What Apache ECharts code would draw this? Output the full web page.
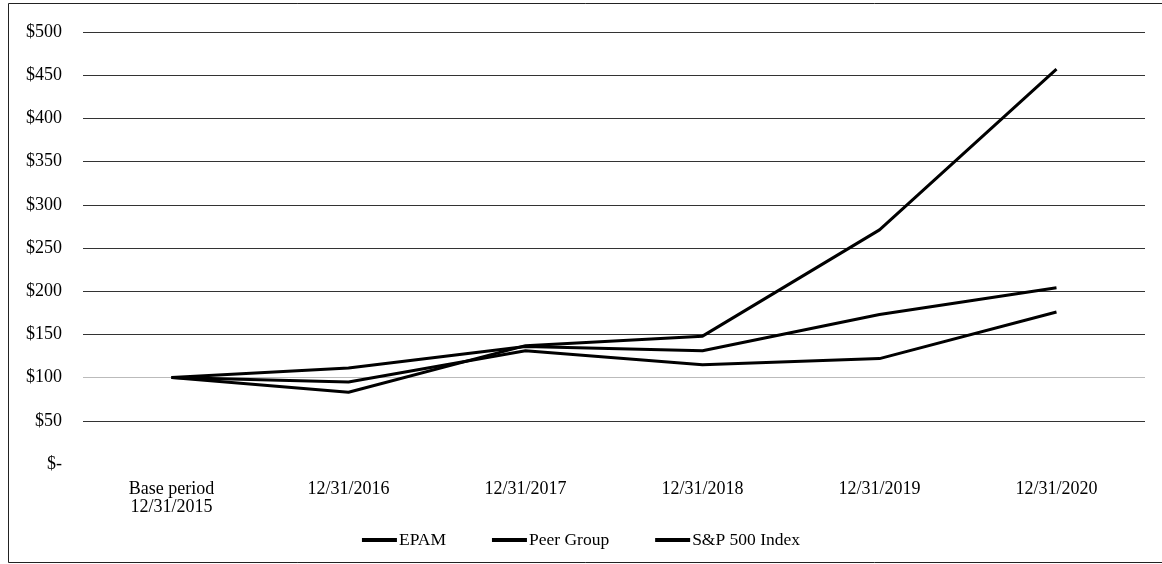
<!DOCTYPE html>
<html>
<head>
<meta charset="utf-8">
<script src="https://cdn.jsdelivr.net/npm/echarts@6/dist/echarts.min.js"></script>
<style>html,body{margin:0;padding:0;background:#fff}#c{width:1162px;height:564px}</style>
</head>
<body>
<div id="c"></div>
<script>
var categories = ['Base period\n12/31/2015', '12/31/2016', '12/31/2017', '12/31/2018', '12/31/2019', '12/31/2020'];
var epam = [100, 83, 137, 148, 271, 457];
var peerGroup = [100, 95, 131, 115, 122, 176];
var sp500 = [100, 111, 136, 131, 173, 204];
var seriesNames = ['EPAM', 'Peer Group', 'S&P 500 Index'];

var font = '"Liberation Serif", "Times New Roman", serif';
var chart = echarts.init(document.getElementById('c'), null, {renderer: 'canvas'});
function mk(name, data) {
  return {
    name: name, type: 'line', data: data, symbol: 'none', smooth: false,
    lineStyle: {color: '#000', width: 3}, itemStyle: {color: '#000'}
  };
}
chart.setOption({
  animation: false,
  backgroundColor: '#fff',
  graphic: [{
    type: 'rect', shape: {x: 8.5, y: 3.5, width: 1160, height: 559},
    style: {fill: 'none', stroke: '#222', lineWidth: 1}
  }],
  grid: {left: 83, right: 17, top: 32, bottom: 100, containLabel: false},
  legend: {
    bottom: 10, left: 'center', icon: 'rect', itemWidth: 35, itemHeight: 4, itemGap: 46,
    textStyle: {fontFamily: font, fontSize: 17.5, color: '#000', padding: [0, 0, 0, -3]},
    data: seriesNames
  },
  xAxis: {
    type: 'category', data: categories, boundaryGap: true,
    axisLine: {show: false}, axisTick: {show: false},
    axisLabel: {fontFamily: font, fontSize: 18, color: '#000', margin: 16, lineHeight: 18}
  },
  yAxis: {
    type: 'value', min: 0, max: 500, interval: 50,
    axisLine: {show: false}, axisTick: {show: false},
    splitLine: {lineStyle: {color: ['#fff', '#333', '#bbb', '#333', '#333', '#333', '#333', '#333', '#333', '#333', '#333'], width: 1.2}},
    axisLabel: {fontFamily: font, fontSize: 18, color: '#000', margin: 21,
      formatter: function (v) { return v === 0 ? '$-' : '$' + v; }}
  },
  series: [mk(seriesNames[0], epam), mk(seriesNames[1], peerGroup), mk(seriesNames[2], sp500)]
});
</script>
</body>
</html>
